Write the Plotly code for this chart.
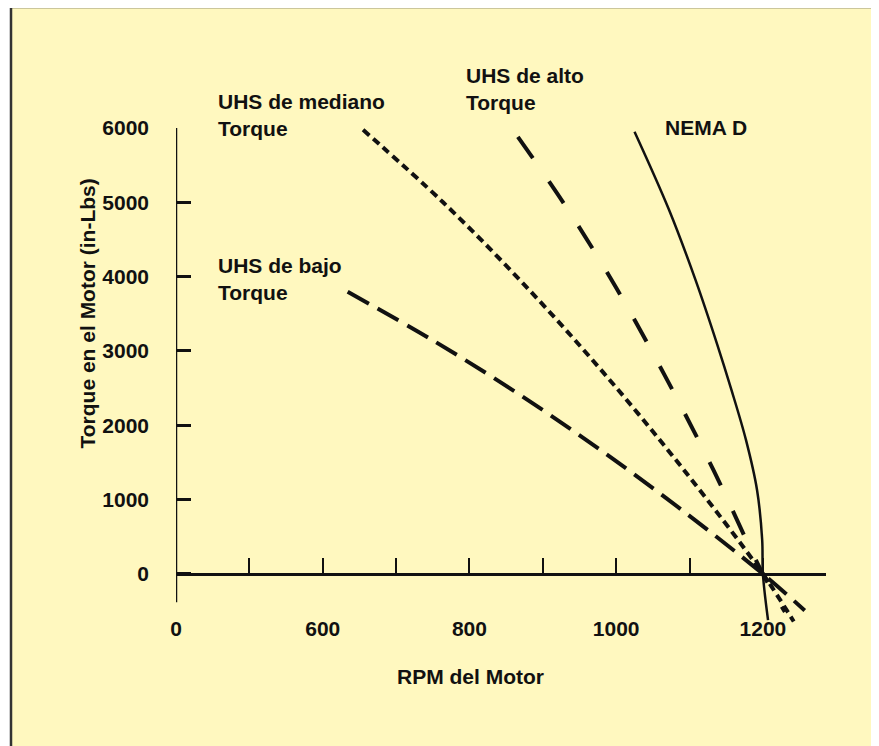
import plotly.graph_objects as go

# curve data (RPM, torque in-lbs)
nema_rpm = [1025, 1072, 1108, 1138, 1157, 1177, 1192, 1199, 1200, 1207]
nema_torque = [5950, 4900, 3960, 3080, 2480, 1800, 1130, 460, 0, -620]

alto_rpm = [866, 933, 1000, 1066, 1133, 1200, 1230]
alto_torque = [5880, 4920, 3850, 2675, 1390, 0, -510]

mediano_rpm = [655, 764, 873, 982, 1091, 1200, 1242]
mediano_torque = [5975, 5000, 3910, 2715, 1415, 0, -640]

bajo_rpm = [634, 748, 861, 974, 1087, 1200, 1257]
bajo_torque = [3795, 3155, 2460, 1700, 880, 0, -490]

x_tickvals = [400, 500, 600, 700, 800, 900, 1000, 1100, 1200]
x_ticktext = ["0", "", "600", "", "800", "", "1000", "", "1200"]
y_tickvals = [0, 1000, 2000, 3000, 4000, 5000, 6000]

BG = "#FFF8BF"
INK = "#111111"
FONT = "Arial, Liberation Sans, sans-serif"

# page has an 8px body margin, so the figure is shifted by OFF
OFF = 8
W, H = 871, 738
ML, MR, MT, MB = 168, 53, 119, 122
YR = [-673, 6013]
XR = [400, 1286]


def px(x):
    # page x pixel -> paper fraction
    return (x - OFF - ML) / (W - ML - MR)


def py(y):
    return (H - MB - (y - OFF)) / (H - MT - MB)


fig = go.Figure()
fig.add_trace(go.Scatter(x=nema_rpm, y=nema_torque, mode="lines",
                         line=dict(color=INK, width=2.5, shape="spline")))
fig.add_trace(go.Scatter(x=alto_rpm, y=alto_torque, mode="lines",
                         line=dict(color=INK, width=4, dash="26px,28px", shape="spline")))
fig.add_trace(go.Scatter(x=mediano_rpm, y=mediano_torque, mode="lines",
                         line=dict(color=INK, width=4, dash="8px,5px", shape="spline")))
fig.add_trace(go.Scatter(x=bajo_rpm, y=bajo_torque, mode="lines",
                         line=dict(color=INK, width=4, dash="24px,10px", shape="spline")))

lab = dict(family=FONT, size=21, color=INK, weight="bold")
tickf = dict(family=FONT, size=21, color=INK, weight="bold")
notes = [
    ("UHS de mediano<br>Torque", 216, 88),
    ("UHS de alto<br>Torque", 464, 62),
    ("NEMA D", 663, 114),
    ("UHS de bajo<br>Torque", 216, 252),
]
for txt, x, y in notes:
    fig.add_annotation(text=txt, x=px(x), y=py(y), xref="paper", yref="paper",
                       xanchor="left", yanchor="top", align="left",
                       showarrow=False, font=lab)

fig.add_annotation(text="RPM del Motor", x=px(470), y=py(690), xref="paper", yref="paper",
                   showarrow=False, font=lab)
fig.add_annotation(text="Torque en el Motor (in-Lbs)", x=px(73), y=py(314),
                   xref="paper", yref="paper", textangle=-90,
                   showarrow=False, font=lab)

# frame and y axis line
fig.add_shape(type="rect", xref="paper", yref="paper", x0=px(11), x1=px(W + 40),
              y0=py(7), y1=py(H + 40), fillcolor=BG, line=dict(color="#333", width=2.5),
              layer="below")
fig.add_shape(type="line", xref="x", yref="y", x0=400, x1=400, y0=-380, y1=6000,
              line=dict(color=INK, width=2.5))

fig.update_layout(
    width=W, height=H,
    margin=dict(l=ML, r=MR, t=MT, b=MB),
    paper_bgcolor="white",
    plot_bgcolor="rgba(0,0,0,0)",
    showlegend=False,
    hovermode=False,
    xaxis=dict(range=XR, tickvals=x_tickvals, ticktext=x_ticktext,
               anchor="free", position=-YR[0] / (YR[1] - YR[0]),
               showline=True, linecolor=INK, linewidth=2.5,
               ticks="inside", ticklen=15, tickwidth=2, tickcolor=INK,
               ticklabelstandoff=35, showgrid=False, zeroline=False,
               tickfont=tickf),
    yaxis=dict(range=YR, tickvals=y_tickvals, showline=False,
               ticks="inside", ticklen=15, tickwidth=2.5, tickcolor=INK,
               ticklabelstandoff=26, showgrid=False, zeroline=False,
               tickfont=tickf),
)

fig.write_html("out.html")
